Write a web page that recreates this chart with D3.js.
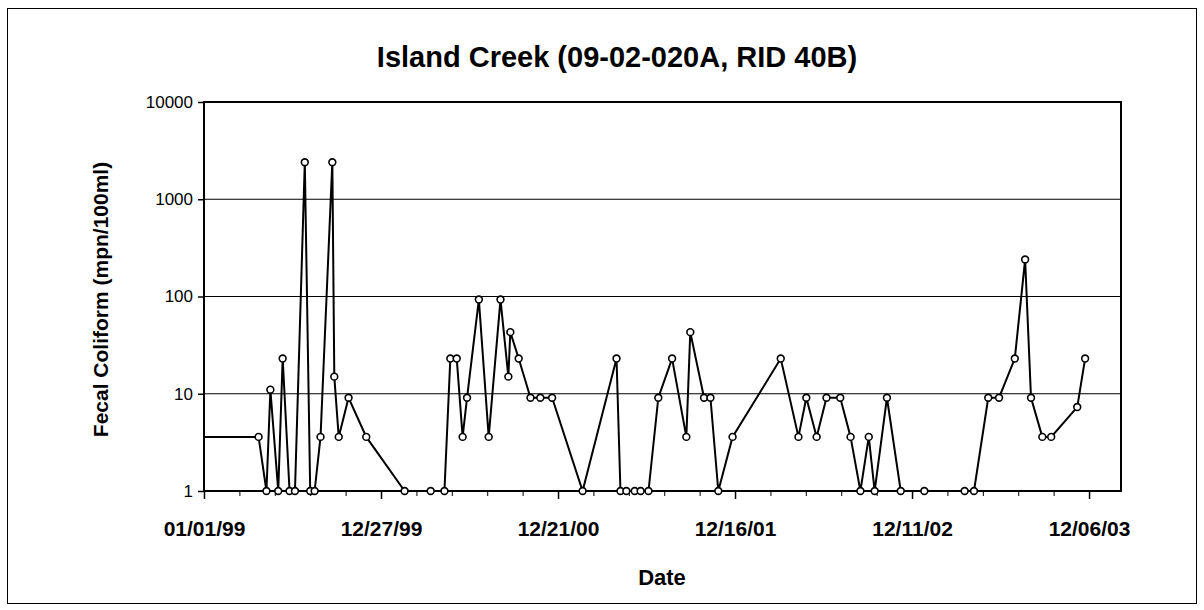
<!DOCTYPE html>
<html>
<head>
<meta charset="utf-8">
<script src="https://cdn.jsdelivr.net/npm/d3@7"></script>
<style>
	body { margin: 0; background: #fff; }
	svg text { font-family: "Liberation Sans", Arial, sans-serif; fill: #000; }
</style>
</head>
<body>
<svg id="chart"></svg>
<script>
// sample dates (the first one lies before the axis start and is clipped)
var dates = [
	"1998-11-01", "1999-04-22", "1999-05-08", "1999-05-16", "1999-06-01", "1999-06-10",
	"1999-06-24", "1999-07-05", "1999-07-25", "1999-08-05", "1999-08-14", "1999-08-26",
	"1999-09-19", "1999-09-23", "1999-10-02", "1999-10-22", "1999-11-27", "2000-02-13",
	"2000-04-06", "2000-05-04", "2000-05-16", "2000-05-29", "2000-06-10", "2000-06-19",
	"2000-07-13", "2000-08-02", "2000-08-26", "2000-09-11", "2000-09-15", "2000-10-02",
	"2000-10-26", "2000-11-15", "2000-12-09", "2001-02-09", "2001-04-19", "2001-04-27",
	"2001-05-09", "2001-05-26", "2001-06-07", "2001-06-23", "2001-07-13", "2001-08-10",
	"2001-09-08", "2001-09-16", "2001-10-14", "2001-10-27", "2001-11-12", "2001-12-11",
	"2002-03-19", "2002-04-24", "2002-05-10", "2002-05-31", "2002-06-20", "2002-07-18",
	"2002-08-08", "2002-08-28", "2002-09-14", "2002-09-26", "2002-10-21", "2002-11-18",
	"2003-01-05", "2003-03-28", "2003-04-16", "2003-05-15", "2003-06-06", "2003-07-08",
	"2003-07-29", "2003-08-10", "2003-09-02", "2003-09-20", "2003-11-12", "2003-11-28"
];

// fecal coliform, mpn/100ml
var values = [
	3.6, 3.6, 1, 11, 1, 23,
	1, 1, 2400, 1, 1, 3.6,
	2400, 15, 3.6, 9.1, 3.6, 1,
	1, 1, 23, 23, 3.6, 9.1,
	93, 3.6, 93, 15, 43, 23,
	9.1, 9.1, 9.1, 1, 23, 1,
	1, 1, 1, 1, 9.1, 23,
	3.6, 43, 9.1, 9.1, 1, 3.6,
	23, 3.6, 9.1, 3.6, 9.1, 9.1,
	3.6, 1, 3.6, 1, 9.1, 1,
	1, 1, 1, 9.1, 9.1, 23,
	240, 9.1, 3.6, 3.6, 7.3, 23
];

var xTickDates = ["1999-01-01", "1999-12-27", "2000-12-21", "2001-12-16", "2002-12-11", "2003-12-06"];
var yTicks = [1, 10, 100, 1000, 10000];

function Chart(){
	this.width = 1204;
	this.height = 610;
	this.left = 204;
	this.right = 1121;
	this.plotTop = 102;
	this.bottom = 491;

	this.draw();
}

Chart.prototype.draw = function(){

	var width = this.width,
		height = this.height,
		left = this.left,
		right = this.right,
		plotTop = this.plotTop,
		bottom = this.bottom;

	var parse = d3.timeParse("%Y-%m-%d");
	var start = parse("1999-01-01");
	var data = dates.map(function(d, i){ return { date: parse(d), value: values[i] }; });

	var svg = d3.select("#chart")
		.attr("width", width)
		.attr("height", height);

	// outer chart border
	svg.append("rect")
		.attr("x", 7.5)
		.attr("y", 8.5)
		.attr("width", 1189)
		.attr("height", 595)
		.attr("fill", "#fff")
		.attr("stroke", "#000")
		.attr("stroke-width", 1);

	var x = d3.scaleTime()
		.domain([start, d3.timeDay.offset(start, 1865)])
		.range([left, right]);

	var y = d3.scaleLog()
		.domain([1, 10000])
		.range([bottom, plotTop]);

	// gridlines
	svg.append("g")
		.selectAll("line")
		.data(yTicks.slice(1, -1))
		.enter()
			.append("line")
				.attr("x1", left)
				.attr("x2", right)
				.attr("y1", function(d){ return y(d); })
				.attr("y2", function(d){ return y(d); })
				.attr("stroke", "#000")
				.attr("stroke-width", 1);

	// x axis: major every 360 days, minor every 72
	var minorTicks = d3.range(0, 26).map(function(i){ return d3.timeDay.offset(start, i * 72); });

	var gMinor = svg.append("g")
		.attr("transform", "translate(0," + bottom + ")")
		.call(d3.axisBottom(x).tickValues(minorTicks).tickSize(5).tickFormat(""));
	gMinor.select(".domain").remove();
	gMinor.selectAll("line").attr("stroke-width", 1);

	var gx = svg.append("g")
		.attr("transform", "translate(0," + bottom + ")")
		.call(d3.axisBottom(x)
			.tickValues(xTickDates.map(parse))
			.tickSize(8)
			.tickPadding(22)
			.tickFormat(d3.timeFormat("%m/%d/%y")));
	gx.select(".domain").remove();
	gx.selectAll("line").attr("stroke-width", 1.5);
	gx.selectAll("text")
		.attr("font-size", 21)
		.attr("font-weight", "bold");

	// y axis
	var gy = svg.append("g")
		.attr("transform", "translate(" + left + ",0)")
		.call(d3.axisLeft(y)
			.tickValues(yTicks)
			.tickSize(6)
			.tickPadding(5)
			.tickFormat(d3.format("d")));
	gy.select(".domain").remove();
	gy.selectAll("line").attr("stroke-width", 1.5);
	gy.selectAll("text")
		.attr("font-size", 17);

	// plot frame
	svg.append("rect")
		.attr("x", left)
		.attr("y", plotTop)
		.attr("width", right - left)
		.attr("height", bottom - plotTop)
		.attr("fill", "none")
		.attr("stroke", "#000")
		.attr("stroke-width", 2);

	// data line, clipped to the plot
	svg.append("clipPath")
		.attr("id", "plotClip")
		.append("rect")
			.attr("x", left)
			.attr("y", plotTop)
			.attr("width", right - left)
			.attr("height", bottom - plotTop);

	var line = d3.line()
		.x(function(d){ return x(d.date); })
		.y(function(d){ return y(d.value); });

	svg.append("path")
		.datum(data)
		.attr("clip-path", "url(#plotClip)")
		.attr("d", line)
		.attr("fill", "none")
		.attr("stroke", "#000")
		.attr("stroke-width", 2);

	svg.append("g")
		.selectAll("circle")
		.data(data.filter(function(d){ return d.date >= start; }))
		.enter()
			.append("circle")
				.attr("cx", function(d){ return x(d.date); })
				.attr("cy", function(d){ return y(d.value); })
				.attr("r", 3.4)
				.attr("fill", "#fff")
				.attr("stroke", "#000")
				.attr("stroke-width", 1.6);

	// titles
	svg.append("text")
		.attr("x", 617)
		.attr("y", 67)
		.attr("text-anchor", "middle")
		.attr("font-size", 29)
		.attr("font-weight", "bold")
		.text("Island Creek (09-02-020A, RID 40B)");

	svg.append("text")
		.attr("x", 662)
		.attr("y", 585)
		.attr("text-anchor", "middle")
		.attr("font-size", 22)
		.attr("font-weight", "bold")
		.text("Date");

	svg.append("text")
		.attr("transform", "translate(108," + ((plotTop + bottom) / 2 + 3) + ") rotate(-90)")
		.attr("text-anchor", "middle")
		.attr("font-size", 21)
		.attr("font-weight", "bold")
		.text("Fecal Coliform (mpn/100ml)");
};

new Chart();
</script>
</body>
</html>
